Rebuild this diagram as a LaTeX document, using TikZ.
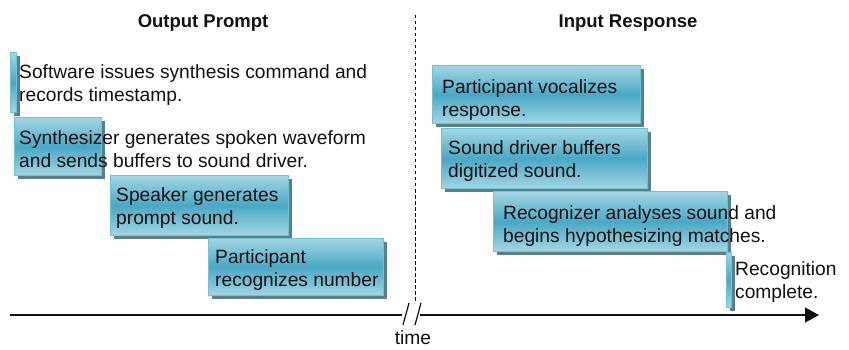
\documentclass[tikz,border=0pt]{standalone}
\usepackage{fontspec}
\setmainfont{Liberation Sans}
\usetikzlibrary{arrows.meta,shadows}
\definecolor{boxlight}{HTML}{A3D6E4}
\definecolor{boxmid}{HTML}{4AA8C5}
\definecolor{boxedge}{HTML}{6CC4DA}
\definecolor{boxshadow}{HTML}{5B7E87}
\definecolor{ink}{HTML}{111111}
\begin{document}
\begin{tikzpicture}[x=1pt,y=-1pt,
  evbox/.style={draw=boxedge, line width=1pt, top color=boxlight, bottom color=boxlight, middle color=boxmid,
    inner sep=0pt, anchor=north west,
    drop shadow={shadow xshift=3pt, shadow yshift=-3.5pt, fill=boxshadow, opacity=1}},
  evtext/.style={anchor=west, align=left, inner sep=0pt, text=ink, font=\fontsize{19.2}{23.5}\selectfont},
  titletext/.style={inner sep=0pt, text=ink, font=\fontsize{18.5}{21}\selectfont\bfseries},
  axisline/.style={line width=1.2pt, draw=ink},
  divider/.style={line width=0.8pt, draw=ink, dash pattern=on 3.5pt off 2.5pt}
]
\useasboundingbox (0,0) rectangle (849,350);

% titles
\node[titletext] (t-out) at (203,23) {Output Prompt};
\node[titletext] (t-in) at (628,23) {Input Response};

% divider
\coordinate (d-top) at (415,15);
\coordinate (d-bot) at (415,303);
\draw[divider] (d-top) -- (d-bot);

% boxes (left)
\node[evbox, minimum width=6pt,   minimum height=60pt] (b1) at (10,52) {};
\node[evbox, minimum width=87pt,  minimum height=58pt] (b2) at (14,117) {};
\node[evbox, minimum width=178pt, minimum height=60pt] (b3) at (110,175) {};
\node[evbox, minimum width=175pt, minimum height=57pt] (b4) at (208,238) {};
% boxes (right)
\node[evbox, minimum width=208pt, minimum height=58pt] (b5) at (432,65) {};
\node[evbox, minimum width=206pt, minimum height=60pt] (b6) at (441,128) {};
\node[evbox, minimum width=234pt, minimum height=60pt] (b7) at (493,191) {};
\node[evbox, minimum width=5pt,   minimum height=55pt] (b8) at (726,252) {};

% texts
\node[evtext] (x1) at (19,85)  {Software issues synthesis command and\\records timestamp.};
\node[evtext] (x2) at (19,149) {Synthesizer generates spoken waveform\\and sends buffers to sound driver.};
\node[evtext] (x3) at (116,208) {Speaker generates\\prompt sound.};
\node[evtext] (x4) at (215,270) {Participant\\recognizes number};
\node[evtext] (x5) at (442,100)  {Participant vocalizes\\response.};
\node[evtext] (x6) at (448,161) {Sound driver buffers\\digitized sound.};
\node[evtext] (x7) at (503,226) {Recognizer analyses sound and\\begins hypothesizing matches.};
\node[evtext] (x8) at (735,282) {Recognition\\complete.};

% time axis
\coordinate (a-start) at (10,315);
\coordinate (a-gap1) at (402,315);
\coordinate (a-gap2) at (420,315);
\coordinate (a-end) at (819,315);
\draw[axisline] (a-start) -- (a-gap1);
\draw[axisline, -{Triangle[length=14pt,width=15pt]}] (a-gap2) -- (a-end);
\coordinate (s1a) at (403,325);
\coordinate (s1b) at (409,303);
\coordinate (s2a) at (415,325);
\coordinate (s2b) at (421,303);
\draw[axisline] (s1a) -- (s1b);
\draw[axisline] (s2a) -- (s2b);
\node[evtext, anchor=center] (time) at (413,338) {time};
\end{tikzpicture}
\end{document}
